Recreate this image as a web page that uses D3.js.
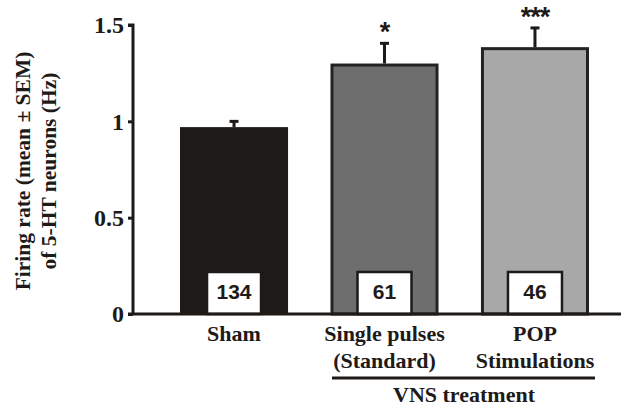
<!DOCTYPE html>
<html><head><meta charset="utf-8">
<script src="https://cdn.jsdelivr.net/npm/d3@7"></script>
<style>body{margin:0;background:#fff}</style>
</head><body>
<svg id="c" width="621" height="408"></svg>
<script>
const categories = [["Sham"], ["Single pulses", "(Standard)"], ["POP", "Stimulations"]];
const means = [0.97, 1.30, 1.385];
const sems = [0.035, 0.11, 0.105];
const counts = ["134", "61", "46"];
const stars = ["", "*", "***"];
const yTicks = [0, 0.5, 1, 1.5];
const fills = ["#1e1a18", "#6e6e6e", "#a8a8a8"];

const svg = d3.select("#c");
const y = d3.scaleLinear().domain([0, 1.5]).range([314, 25]);
const x = d3.scaleBand().domain(d3.range(3)).range([180, 589]).paddingInner(0.282).paddingOuter(0);
const serif = "'Liberation Serif', 'Times New Roman', serif";
const sans = "'Liberation Sans', Arial, sans-serif";
const ink = "#1e1a18";

const g = svg.append("g");
means.forEach((m, i) => {
  const bx = x(i), bw = x.bandwidth();
  const outline = i > 0;
  g.append("rect").attr("x", bx + (outline ? 1.5 : 0)).attr("y", y(m) + (outline ? 1.5 : 0))
    .attr("width", bw - (outline ? 3 : 0)).attr("height", y(0) - y(m) - (outline ? 1.5 : 0))
    .attr("fill", fills[i]).attr("stroke", outline ? "#222" : "none").attr("stroke-width", outline ? 3 : 0);
  const cx = bx + bw / 2;
  const top = y(m + sems[i]);
  g.append("line").attr("x1", cx).attr("x2", cx).attr("y1", y(m)).attr("y2", top)
    .attr("stroke", ink).attr("stroke-width", 3);
  g.append("line").attr("x1", cx - 4.5).attr("x2", cx + 4.5).attr("y1", top + 1).attr("y2", top + 1)
    .attr("stroke", ink).attr("stroke-width", 3);
  if (stars[i]) {
    g.append("text").attr("x", cx).attr("y", top - 1).attr("text-anchor", "middle")
      .attr("font-family", sans).attr("font-size", 27).attr("font-weight", "bold").attr("fill", ink)
      .attr("letter-spacing", "-1px")
      .text(stars[i]);
  }
  g.append("rect").attr("x", cx - 27).attr("y", 272).attr("width", 54).attr("height", 42)
    .attr("fill", "#fff").attr("stroke", ink).attr("stroke-width", 2.5);
  g.append("text").attr("x", cx).attr("y", 298.5).attr("text-anchor", "middle")
    .attr("font-family", sans).attr("font-size", 21).attr("font-weight", "bold").attr("fill", ink)
    .text(counts[i]);
  categories[i].forEach((line, j) => {
    g.append("text").attr("x", cx).attr("y", 341 + j * 27).attr("text-anchor", "middle")
      .attr("font-family", serif).attr("font-size", 22).attr("font-weight", "bold").attr("fill", ink)
      .text(line);
  });
});

const yAxis = d3.axisLeft(y).tickValues(yTicks).tickFormat(d3.format("")).tickSize(5).tickPadding(4);
const ya = svg.append("g").attr("transform", "translate(133,0)").call(yAxis);
ya.select(".domain").attr("stroke", ink).attr("stroke-width", 3).attr("d", `M-5,${y(1.5)}H0V${y(0)}`);
ya.selectAll(".tick line").attr("stroke", ink).attr("stroke-width", 3);
ya.selectAll(".tick text").attr("font-family", serif).attr("font-size", 24).attr("font-weight", "bold").attr("fill", ink);

svg.append("line").attr("x1", 128).attr("x2", 621).attr("y1", y(0)).attr("y2", y(0))
  .attr("stroke", ink).attr("stroke-width", 3);

svg.append("line").attr("x1", 332).attr("x2", 595).attr("y1", 378).attr("y2", 378)
  .attr("stroke", ink).attr("stroke-width", 3);
svg.append("text").attr("x", 464).attr("y", 402).attr("text-anchor", "middle")
  .attr("font-family", serif).attr("font-size", 22).attr("font-weight", "bold").attr("fill", ink)
  .text("VNS treatment");

const yl = svg.append("text").attr("transform", "translate(0,171) rotate(-90)").attr("text-anchor", "middle")
  .attr("font-family", serif).attr("font-size", 21.5).attr("font-weight", "bold").attr("fill", ink);
yl.append("tspan").attr("x", 0).attr("y", 30).text("Firing rate (mean ± SEM)");
yl.append("tspan").attr("x", 0).attr("y", 56).text("of 5-HT neurons (Hz)");
</script>
</body></html>
